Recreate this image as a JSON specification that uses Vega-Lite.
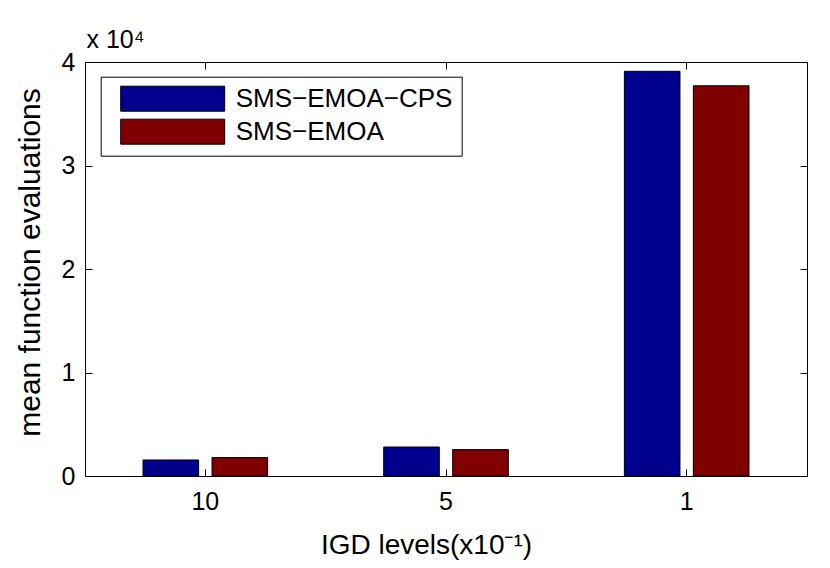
{
  "$schema": "https://vega.github.io/schema/vega-lite/v6.json",
  "width": 722,
  "height": 414,
  "autosize": "none",
  "padding": {"left": 85, "top": 62, "right": 23, "bottom": 92},
  "background": "white",
  "data": {
    "values": [
      {"level": "10", "method": "SMS−EMOA−CPS", "evals": 1550},
      {"level": "10", "method": "SMS−EMOA", "evals": 1780},
      {"level": "5", "method": "SMS−EMOA−CPS", "evals": 2800},
      {"level": "5", "method": "SMS−EMOA", "evals": 2550},
      {"level": "1", "method": "SMS−EMOA−CPS", "evals": 39100},
      {"level": "1", "method": "SMS−EMOA", "evals": 37700}
    ]
  },
  "layer": [
    {
      "mark": {"type": "bar", "stroke": "black", "strokeWidth": 1},
      "encoding": {
        "x": {
          "field": "level",
          "type": "nominal",
          "sort": ["10", "5", "1"],
          "scale": {"paddingInner": 0, "paddingOuter": 0},
          "axis": {
            "orient": "bottom",
            "title": "IGD levels(x10⁻¹)",
            "labelAngle": 0,
            "tickSize": -7,
            "labelPadding": 20,
            "bandPosition": 0.5,
            "titleX": 341,
            "titleY": 77,
            "titleBaseline": "alphabetic",
            "titleAlign": "center",
            "titleFontSize": 28
          }
        },
        "xOffset": {
          "field": "method",
          "type": "nominal",
          "sort": ["SMS−EMOA−CPS", "SMS−EMOA"],
          "scale": {"paddingInner": 0.194, "paddingOuter": 0.841}
        },
        "y": {
          "field": "evals",
          "type": "quantitative",
          "scale": {"domain": [0, 40000], "nice": false},
          "axis": {
            "orient": "left",
            "title": "mean function evaluations",
            "values": [0, 10000, 20000, 30000, 40000],
            "labelExpr": "datum.value / 10000",
            "tickSize": -7,
            "labelPadding": 17,
            "titleX": -46,
            "titleY": 200,
            "titleAngle": -90,
            "titleBaseline": "alphabetic",
            "titleAlign": "center",
            "titleFontSize": 30
          }
        },
        "color": {
          "field": "method",
          "type": "nominal",
          "scale": {"domain": ["SMS−EMOA−CPS", "SMS−EMOA"], "range": ["#00008f", "#800000"]},
          "legend": {
            "title": null,
            "orient": "none",
            "legendX": 15.7,
            "legendY": 14.7,
            "padding": 9,
            "strokeColor": "black",
            "fillColor": "white",
            "symbolType": "M-4.16,-1H4.16V1H-4.16Z",
            "symbolSize": 625,
            "symbolStrokeColor": "black",
            "symbolStrokeWidth": 1,
            "symbolOpacity": 1,
            "symbolOffset": 50,
            "labelOffset": 50,
            "labelLimit": 400,
            "labelFont": "Liberation Sans",
            "labelFontSize": 26,
            "labelColor": "black",
            "rowPadding": 3
          }
        }
      }
    },
    {
      "mark": {"type": "bar", "opacity": 0},
      "encoding": {
        "x": {
          "field": "level",
          "type": "nominal",
          "sort": ["10", "5", "1"],
          "scale": {"paddingInner": 0, "paddingOuter": 0},
          "axis": {
            "orient": "top",
            "title": "x 10⁴",
            "labels": false,
            "tickSize": -7,
            "bandPosition": 0.5,
            "titleX": 1,
            "titleY": -15,
            "titleAngle": 0,
            "titleAlign": "left",
            "titleBaseline": "alphabetic",
            "titleFontSize": 25
          }
        },
        "y": {
          "field": "evals",
          "type": "quantitative",
          "scale": {"domain": [0, 40000], "nice": false},
          "axis": {"orient": "right", "title": null, "labels": false, "tickSize": -7, "values": [0, 10000, 20000, 30000, 40000]}
        }
      }
    }
  ],
  "resolve": {
    "scale": {"x": "independent", "y": "independent"},
    "axis": {"x": "independent", "y": "independent"}
  },
  "config": {
    "view": {"stroke": "black", "strokeWidth": 1},
    "axis": {
      "grid": false,
      "domain": false,
      "tickColor": "black",
      "tickWidth": 1,
      "labelFont": "Liberation Sans",
      "labelFontSize": 25,
      "labelColor": "black",
      "titleFont": "Liberation Sans",
      "titleFontWeight": "normal",
      "titleColor": "black"
    }
  }
}
